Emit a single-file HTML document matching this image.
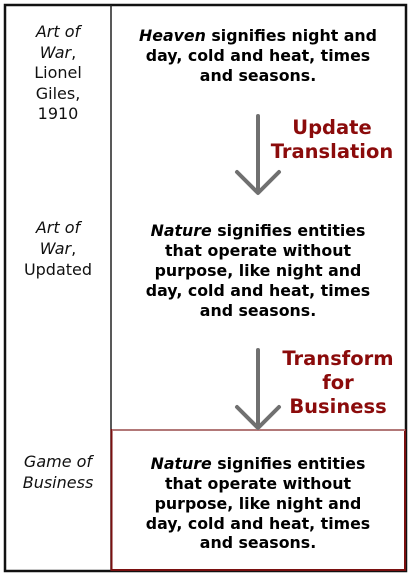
<!DOCTYPE html>
<html><head><meta charset="utf-8"><style>
html,body{margin:0;padding:0;background:#fff;}
svg{display:block;}
text{font-family:"DejaVu Sans","Liberation Sans",sans-serif;}
.b{font-weight:bold;font-size:15.8px;fill:#000;}
.l{font-size:16px;fill:#111;}
.r{font-weight:bold;font-size:19.5px;fill:#8b0b0b;}
</style></head><body>
<svg width="411" height="576" viewBox="0 0 411 576" xmlns="http://www.w3.org/2000/svg">
<rect x="0" y="0" width="411" height="576" fill="#fff"/>
<rect x="5" y="5" width="401" height="566" fill="none" stroke="#111" stroke-width="2.5"/>
<line x1="111" y1="5" x2="111" y2="571" stroke="#222" stroke-width="1.5"/>
<rect x="111.5" y="430" width="293.5" height="140" fill="#fff" stroke="#7a1010" stroke-width="2"/>
<line x1="112" y1="430" x2="405" y2="430" stroke="#c49a9a" stroke-width="1.5"/>

<g text-anchor="middle" class="l">
<text x="58" y="37" class="l" font-style="italic">Art of</text>
<text x="58" y="58" class="l"><tspan font-style="italic">War</tspan>,</text>
<text x="58" y="78" class="l">Lionel</text>
<text x="58" y="99" class="l">Giles,</text>
<text x="58" y="119" class="l">1910</text>
<text x="58" y="233" class="l" font-style="italic">Art of</text>
<text x="58" y="254" class="l"><tspan font-style="italic">War</tspan>,</text>
<text x="58" y="275" class="l">Updated</text>
<text x="58" y="467" class="l" font-style="italic">Game of</text>
<text x="58" y="488" class="l" font-style="italic">Business</text>
</g>

<g text-anchor="middle">
<text x="258" y="41" class="b"><tspan font-style="italic">Heaven</tspan> signifies night and</text>
<text x="258" y="61" class="b">day, cold and heat, times</text>
<text x="258" y="81" class="b">and seasons.</text>

<text x="258" y="236" class="b"><tspan font-style="italic">Nature</tspan> signifies entities</text>
<text x="258" y="256" class="b">that operate without</text>
<text x="258" y="276" class="b">purpose, like night and</text>
<text x="258" y="296" class="b">day, cold and heat, times</text>
<text x="258" y="316" class="b">and seasons.</text>

<text x="258" y="469" class="b"><tspan font-style="italic">Nature</tspan> signifies entities</text>
<text x="258" y="489" class="b">that operate without</text>
<text x="258" y="509" class="b">purpose, like night and</text>
<text x="258" y="529" class="b">day, cold and heat, times</text>
<text x="258" y="548" class="b">and seasons.</text>

<text x="332" y="134" class="r">Update</text>
<text x="332" y="158" class="r">Translation</text>
<text x="338" y="365" class="r">Transform</text>
<text x="338" y="389" class="r">for</text>
<text x="338" y="413" class="r">Business</text>
</g>

<g stroke="#707070" stroke-width="4" fill="none" stroke-linecap="round" stroke-linejoin="round">
<line x1="258" y1="116" x2="258" y2="192"/>
<polyline points="237,172 258,193 279,172"/>
<line x1="258" y1="350" x2="258" y2="427"/>
<polyline points="237,407 258,428 279,407"/>
</g>
</svg>
</body></html>
